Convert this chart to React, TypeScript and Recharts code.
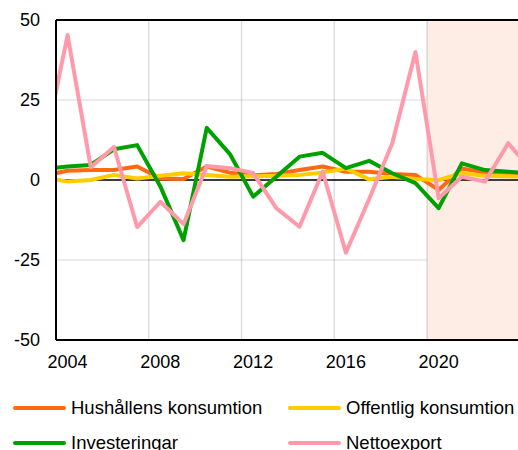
import {
  CartesianGrid,
  Line,
  LineChart,
  ReferenceArea,
  ReferenceLine,
  XAxis,
  YAxis,
} from "recharts"

const YEARS = [
  2003, 2004, 2005, 2006, 2007, 2008, 2009, 2010, 2011, 2012, 2013, 2014, 2015,
  2016, 2017, 2018, 2019, 2020, 2021, 2022, 2023, 2024,
]
const HUSHALL = [
  1.4, 2.9, 3.1, 3.1, 4.2, 0.5, 0.3, 4.2, 2.3, 1.5, 1.9, 3.1, 4.2, 2.6, 2.6, 1.9,
  1.6, -3.1, 3.6, 2.3, 1.9, 1.5,
]
const OFFENTLIG = [
  0.8, -0.5, 0, 1.6, 0.5, 1.3, 2.1, 1.6, 1.0, 1.2, 1.3, 1.6, 2.3, 3.6, 0.2, 1.0,
  0.3, 0, 2.1, 1.3, 1.2, 1.0,
]
const INVEST = [
  3.4, 4.2, 4.7, 9.6, 10.9, -2, -18.8, 16.3, 8.1, -5.2, 1, 7.3, 8.5, 3.7, 6, 2.1,
  -1, -8.8, 5.2, 3.1, 2.6, 2.0,
]
const NETTO = [
  10, 45.3, 4, 10.3, -14.7, -6.8, -13.8, 4.4, 3.7, 2.2, -8.8, -14.6, 2.6, -22.7,
  -6, 11.5, 40, -5.7, 1, -0.5, 11.5, 3,
]

const X_TICKS = [2004, 2008, 2012, 2016, 2020]
const Y_TICKS = [-50, -25, 0, 25, 50]
// gränser mellan kategorier (Excel-stil)
const V_GRID = [2007.5, 2011.5, 2015.5, 2019.5]
const FORECAST_START = 2019.5

const SERIES = [
  { key: "hushall", name: "Hushållens konsumtion", color: "#ff6a10" },
  { key: "offentlig", name: "Offentlig konsumtion", color: "#ffcc00" },
  { key: "invest", name: "Investeringar", color: "#00a000" },
  { key: "netto", name: "Nettoexport", color: "#ff9aab" },
]

const rows = YEARS.map((year, i) => ({
  year,
  hushall: HUSHALL[i],
  offentlig: OFFENTLIG[i],
  invest: INVEST[i],
  netto: NETTO[i],
}))

const FONT = '"Liberation Sans", Arial, sans-serif'
const TICK = { fill: "#000", fontSize: 18, fontFamily: FONT }

function LegendItem({ name, color }: { name: string; color: string }) {
  return (
    <div style={{ display: "flex", alignItems: "center", height: 35 }}>
      <span
        style={{
          display: "inline-block",
          width: 53,
          height: 4,
          borderRadius: 2,
          background: color,
          marginRight: 5,
        }}
      />
      <span style={{ fontSize: 18.5, fontFamily: FONT, color: "#000" }}>{name}</span>
    </div>
  )
}

export default function App() {
  return (
    <div style={{ position: "relative", width: 518, height: 450, overflow: "hidden" }}>
      <style>{"body{margin:0}"}</style>
      <LineChart
        width={543}
        height={380}
        data={rows}
        margin={{ top: 20, right: 0, bottom: 0, left: 0 }}
      >
        <ReferenceArea
          x1={FORECAST_START}
          x2={2024.5}
          y1={-50}
          y2={50}
          fill="#feede5"
          fillOpacity={1}
          stroke="none"
          ifOverflow="hidden"
        />
        <CartesianGrid vertical={false} stroke="rgba(0,0,0,0.15)" />
        {V_GRID.map((x) => (
          <ReferenceLine key={x} x={x} stroke="rgba(0,0,0,0.13)" strokeWidth={1.5} />
        ))}
        <XAxis
          type="number"
          dataKey="year"
          domain={[2003.5, 2024.5]}
          allowDataOverflow
          ticks={X_TICKS}
          tickLine={false}
          tickMargin={9}
          axisLine={{ stroke: "#000", strokeWidth: 2 }}
          tick={TICK}
          height={40}
          interval={0}
        />
        <YAxis
          type="number"
          domain={[-50, 50]}
          ticks={Y_TICKS}
          tickLine={false}
          tickMargin={10}
          axisLine={{ stroke: "#000", strokeWidth: 2 }}
          tick={TICK}
          width={56}
          interval={0}
        />
        <ReferenceLine y={50} stroke="#000" strokeWidth={2} />
        <ReferenceLine y={0} stroke="#000" strokeWidth={1.5} />
        {SERIES.map((s) => (
          <Line
            key={s.key}
            type="linear"
            dataKey={s.key}
            name={s.name}
            stroke={s.color}
            strokeWidth={4}
            strokeLinejoin="round"
            dot={false}
            activeDot={false}
            isAnimationActive={false}
          />
        ))}
      </LineChart>
      <div
        style={{
          position: "absolute",
          left: 13,
          top: 390,
          display: "grid",
          gridTemplateColumns: "275px 240px",
        }}
      >
        {SERIES.map((s) => (
          <LegendItem key={s.key} name={s.name} color={s.color} />
        ))}
      </div>
    </div>
  )
}
